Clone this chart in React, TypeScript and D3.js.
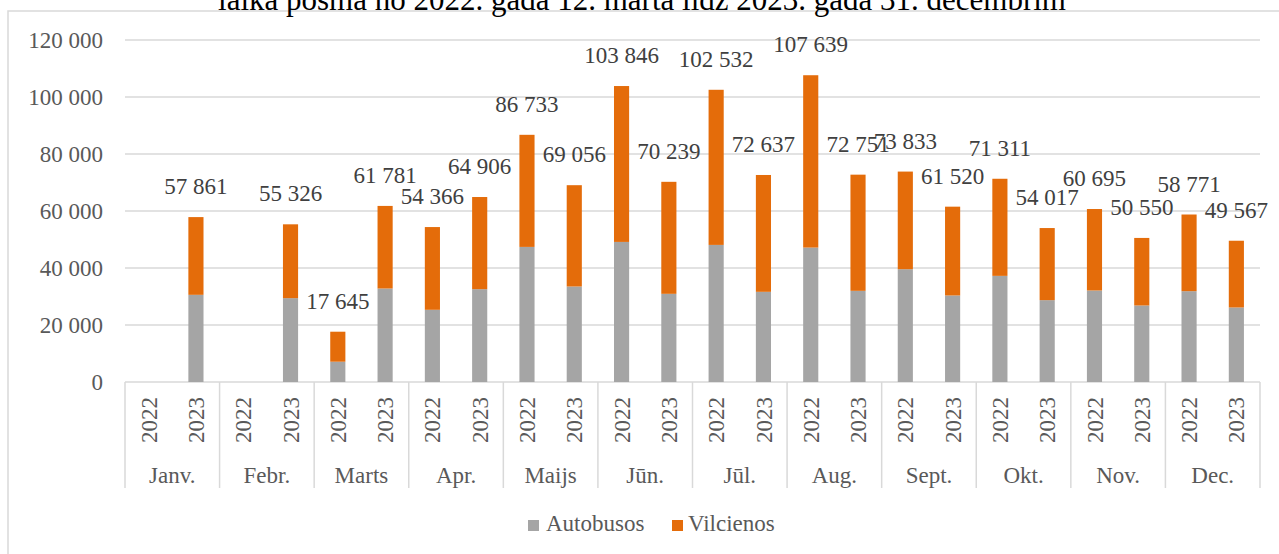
import React from "react";
import * as d3 from "d3";

const months = ["Janv.", "Febr.", "Marts", "Apr.", "Maijs", "Jūn.", "Jūl.", "Aug.", "Sept.", "Okt.", "Nov.", "Dec."];
const years = ["2022", "2023"];
const autobusos2022: (number | null)[] = [null, null, 7120, 25335, 47400, 49150, 48100, 47170, 39580, 37240, 32110, 31870];
const autobusos2023: (number | null)[] = [30590, 29420, 32810, 32575, 33510, 30940, 31640, 31990, 30360, 28720, 26850, 26150];
const vilcienos2022: (number | null)[] = [null, null, 10525, 29031, 39333, 54696, 54432, 60469, 34253, 34071, 28585, 26901];
const vilcienos2023: (number | null)[] = [27271, 25906, 28971, 32331, 35546, 39299, 40997, 40761, 31160, 25297, 23700, 23417];
const yTicks = [0, 20000, 40000, 60000, 80000, 100000, 120000];
const seriesNames = ["Autobusos", "Vilcienos"];
const titleText = "laika posmā no 2022. gada 12. marta līdz 2023. gada 31. decembrim";

const W = 1279;
const H = 554;
const FONT = "'Liberation Serif', 'Times New Roman', serif";
const GREY = "#A5A5A5";
const ORANGE = "#E46C0A";
const GRID = "#D9D9D9";

const fmt = (v: number) => d3.format(",")(v).replace(/,/g, " ");

export default function App() {
  const rows = months.flatMap((m, i) =>
    years.map((yr) => ({
      key: m + "|" + yr,
      month: m,
      year: yr,
      a: yr === "2022" ? autobusos2022[i] : autobusos2023[i],
      v: yr === "2022" ? vilcienos2022[i] : vilcienos2023[i],
    }))
  );
  const x = d3.scaleBand<string>().domain(rows.map((r) => r.key)).range([125, 1260]).paddingInner(0.68).paddingOuter(0.34);
  const xm = d3.scaleBand<string>().domain(months).range([125, 1260]);
  const y = d3.scaleLinear().domain([0, 120000]).range([382, 40]);
  const bw = x.bandwidth();

  return (
    <svg width={W} height={H} style={{ position: "absolute", left: 0, top: 0, background: "#fff", fontFamily: FONT }}>
      <rect x={8} y={11} width={W + 10} height={H + 10} fill="#fff" stroke={GRID} strokeWidth={1.5} />
      <text x={642} y={10} textAnchor="middle" fontSize={31} fill="#000">{titleText}</text>
      {yTicks.map((t) => (
        <g key={t}>
          {t > 0 && <line x1={125} x2={1260} y1={y(t)} y2={y(t)} stroke={GRID} strokeWidth={1.5} />}
          <text x={103} y={y(t)} dy="0.35em" textAnchor="end" fontSize={23} fill="#595959">{fmt(t)}</text>
        </g>
      ))}
      <line x1={125} x2={1260} y1={y(0)} y2={y(0)} stroke={GRID} strokeWidth={1.5} />
      {months.map((m) => (
        <line key={m} x1={xm(m)!} x2={xm(m)!} y1={y(0)} y2={488} stroke={GRID} strokeWidth={1.5} />
      ))}
      <line x1={1260} x2={1260} y1={y(0)} y2={488} stroke={GRID} strokeWidth={1.5} />
      {rows.map((r) => {
        const cx = x(r.key)! + bw / 2;
        return (
          <g key={r.key}>
            {r.a != null && <rect x={x(r.key)!} width={bw} y={y(r.a)} height={y(0) - y(r.a)} fill={GREY} />}
            {r.a != null && r.v != null && (
              <rect x={x(r.key)!} width={bw} y={y(r.a + r.v)} height={y(r.a) - y(r.a + r.v)} fill={ORANGE} />
            )}
            {r.a != null && r.v != null && (
              <text x={cx} y={y(r.a + r.v) - 31} dy="0.35em" textAnchor="middle" fontSize={23} fill="#404040">
                {fmt(r.a + r.v)}
              </text>
            )}
            <text
              transform={`translate(${cx},420) rotate(-90)`}
              dy="0.35em"
              textAnchor="middle"
              fontSize={23}
              fill="#595959"
            >
              {r.year}
            </text>
          </g>
        );
      })}
      {months.map((m) => (
        <text key={m} x={xm(m)! + xm.bandwidth() / 2} y={483} textAnchor="middle" fontSize={23} fill="#595959">
          {m}
        </text>
      ))}
      <g>
        <rect x={528} y={520} width={11} height={11} fill={GREY} />
        <text x={546} y={531} fontSize={23} fill="#595959">{seriesNames[0]}</text>
        <rect x={672} y={520} width={11} height={11} fill={ORANGE} />
        <text x={688} y={531} fontSize={23} fill="#595959">{seriesNames[1]}</text>
      </g>
    </svg>
  );
}
